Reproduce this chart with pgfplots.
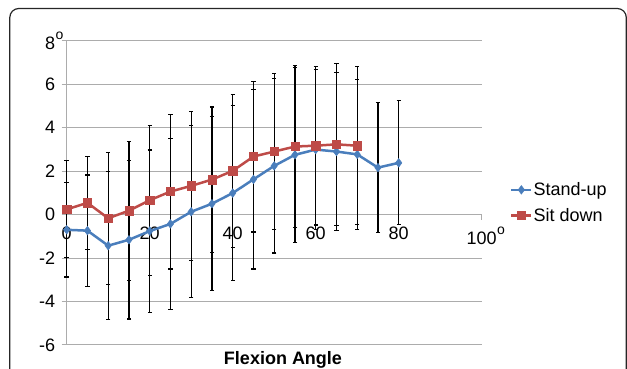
\documentclass[border=0pt]{standalone}
\usepackage{fontspec}
\setmainfont{Liberation Sans}
\usepackage{pgfplots}
\pgfplotsset{compat=1.18}
\usepackage{pgfplotstable}
\definecolor{sblue}{RGB}{74,126,188}
\definecolor{sred}{RGB}{190,75,72}
\definecolor{gridc}{RGB}{172,172,172}
\newcommand{\dg}{\rlap{\hspace{0.5pt}\raisebox{9.5pt}{\fontsize{14}{14}\selectfont o}}}

\pgfplotstableread{
x y e
0 -0.70 2.17
5 -0.74 2.56
10 -1.43 3.40
15 -1.16 3.64
20 -0.76 3.73
25 -0.43 3.92
30 0.13 3.96
35 0.50 4.00
40 0.99 4.03
45 1.62 4.12
50 2.24 4.01
55 2.75 4.02
60 2.99 3.69
65 2.90 3.64
70 2.77 3.44
75 2.16 3.00
80 2.38 2.85
}\standup

\pgfplotstableread{
x y e
0 0.24 2.23
5 0.54 2.14
10 -0.17 3.03
15 0.18 3.20
20 0.66 3.45
25 1.06 3.56
30 1.32 3.43
35 1.61 3.34
40 2.01 3.51
45 2.67 3.47
50 2.90 3.60
55 3.13 3.72
60 3.17 3.65
65 3.23 3.72
70 3.17 3.63
}\sitdown

\begin{document}
\begin{tikzpicture}
\useasboundingbox (0pt,0pt) rectangle (627pt,369pt);
\draw[line width=1.2pt, draw=black!85, rounded corners=9pt] (9.8pt,360.5pt) rectangle (626.3pt,-30pt);
\begin{axis}[
  at={(66.7pt,24pt)}, anchor=south west,
  width=415pt, height=304.3pt, scale only axis,
  xmin=0, xmax=100, ymin=-6, ymax=8,
  axis x line=middle, axis y line=left,
  axis line style={-, draw=gridc, line width=1pt},
  hide obscured x ticks=false, hide obscured y ticks=false,
  xtick={0,20,...,100}, xticklabels={0,20,40,60,80,100\dg},
  ytick={-6,-4,...,8}, yticklabels={-6,-4,-2,0,2,4,6,8\dg},
  tick align=outside, major tick length=5pt,
  tick style={draw=gridc, line width=1pt},
  ymajorgrids, grid style={draw=gridc, line width=1pt},
  font=\fontsize{18}{21}\selectfont,
  xticklabel style={anchor=north, yshift=-4pt},
  yticklabel style={anchor=east, xshift=-3pt},
  clip=false,
  legend style={draw=none, fill=none, at={(1.068,0.468)}, anchor=west,
    font=\fontsize{18}{21}\selectfont, row sep=9pt, inner sep=0pt,
    nodes={inner sep=1pt}},
  legend cell align=left,
  legend image code/.code={\draw[mark repeat=2,mark phase=2,#1] plot coordinates {(0pt,0pt) (10pt,0pt) (20pt,0pt)};},
]
\addplot[forget plot, draw=none, mark=none,
  error bars/.cd, y dir=both, y explicit,
  error bar style={draw=black, line width=1.3pt},
  error mark options={rotate=90, mark size=2.2pt, draw=black, line width=1.2pt}]
  table[x=x,y=y,y error=e]{\standup};
\addplot[forget plot, draw=none, mark=none,
  error bars/.cd, y dir=both, y explicit,
  error bar style={draw=black, line width=1.3pt},
  error mark options={rotate=90, mark size=2.2pt, draw=black, line width=1.2pt}]
  table[x=x,y=y,y error=e]{\sitdown};
\addplot[sblue, line width=2.5pt, mark=diamond*, mark size=4.3pt, mark options={line width=0.5pt}]
  table[x=x,y=y]{\standup};
\addlegendentry{Stand-up}
\addplot[sred, line width=2.5pt, mark=square*, mark size=4.2pt, mark options={line width=0.5pt}]
  table[x=x,y=y]{\sitdown};
\addlegendentry{Sit down}
\end{axis}
\node[anchor=base, font=\bfseries\fontsize{18}{21}\selectfont] at (283pt,4pt) {Flexion Angle};
\end{tikzpicture}
\end{document}
